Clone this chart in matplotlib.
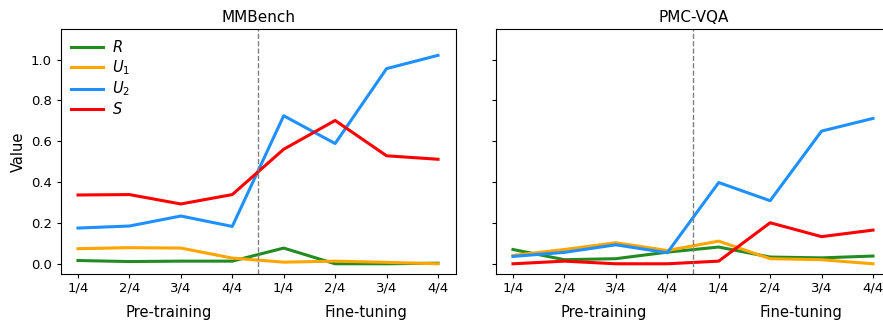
import matplotlib
matplotlib.use("Agg")
import matplotlib.pyplot as plt

# Checkpoints: 4 pre-training stages followed by 4 fine-tuning stages
tick_labels = ["1/4", "2/4", "3/4", "4/4", "1/4", "2/4", "3/4", "4/4"]
stage_names = ["Pre-training", "Fine-tuning"]
series_labels = ["$R$", "$U_1$", "$U_2$", "$S$"]
series_colors = ["forestgreen", "orange", "dodgerblue", "red"]

mmbench_R = [0.016, 0.011, 0.013, 0.013, 0.077, 0.000, 0.000, 0.003]
mmbench_U1 = [0.074, 0.079, 0.077, 0.028, 0.008, 0.013, 0.007, 0.000]
mmbench_U2 = [0.175, 0.185, 0.234, 0.183, 0.725, 0.589, 0.956, 1.021]
mmbench_S = [0.337, 0.339, 0.293, 0.339, 0.561, 0.702, 0.529, 0.512]

pmcvqa_R = [0.070, 0.020, 0.025, 0.057, 0.082, 0.033, 0.029, 0.038]
pmcvqa_U1 = [0.041, 0.070, 0.103, 0.065, 0.111, 0.025, 0.020, 0.000]
pmcvqa_U2 = [0.036, 0.056, 0.093, 0.054, 0.398, 0.309, 0.650, 0.712]
pmcvqa_S = [0.000, 0.013, 0.000, 0.000, 0.013, 0.201, 0.133, 0.165]

panels = [
    ("MMBench", [mmbench_R, mmbench_U1, mmbench_U2, mmbench_S]),
    ("PMC-VQA", [pmcvqa_R, pmcvqa_U1, pmcvqa_U2, pmcvqa_S]),
]

W, H = 883, 323
fig = plt.figure(figsize=(W / 100, H / 100), dpi=100)
ax_w, ax_h = 395 / W, 245 / H
bottom = 49 / H
ax1 = fig.add_axes([61 / W, bottom, ax_w, ax_h])
ax2 = fig.add_axes([496 / W, bottom, ax_w, ax_h], sharey=ax1)

x = list(range(len(tick_labels)))
for ax, (title, series) in zip([ax1, ax2], panels):
    for vals, lab, col in zip(series, series_labels, series_colors):
        ax.plot(x, vals, color=col, lw=2.2, label=lab)
    ax.axvline(3.5, color="gray", ls="--", lw=1)
    ax.set_xticks(x)
    ax.set_xticklabels(tick_labels)
    ax.set_xlim(-0.33, 7.35)
    ax.set_ylim(-0.05, 1.15)
    ax.set_yticks([0.0, 0.2, 0.4, 0.6, 0.8, 1.0])
    ax.tick_params(labelsize=9.5, length=3)
    ax.tick_params(axis="x", pad=2.5)
    ax.set_title(title, fontsize=11, pad=5)
    ax.text(0.272, -0.174, stage_names[0], transform=ax.transAxes,
            ha="center", va="baseline", fontsize=10.6)
    ax.text(0.772, -0.174, stage_names[1], transform=ax.transAxes,
            ha="center", va="baseline", fontsize=10.6)

ax1.set_ylabel("Value", fontsize=10.5)
ax2.tick_params(labelleft=False)
ax1.legend(loc="upper left", frameon=False, fontsize=10.5, handlelength=2.2,
           handletextpad=0.6, labelspacing=0.2, borderaxespad=0.3)

fig.savefig("out.png", dpi=100)
